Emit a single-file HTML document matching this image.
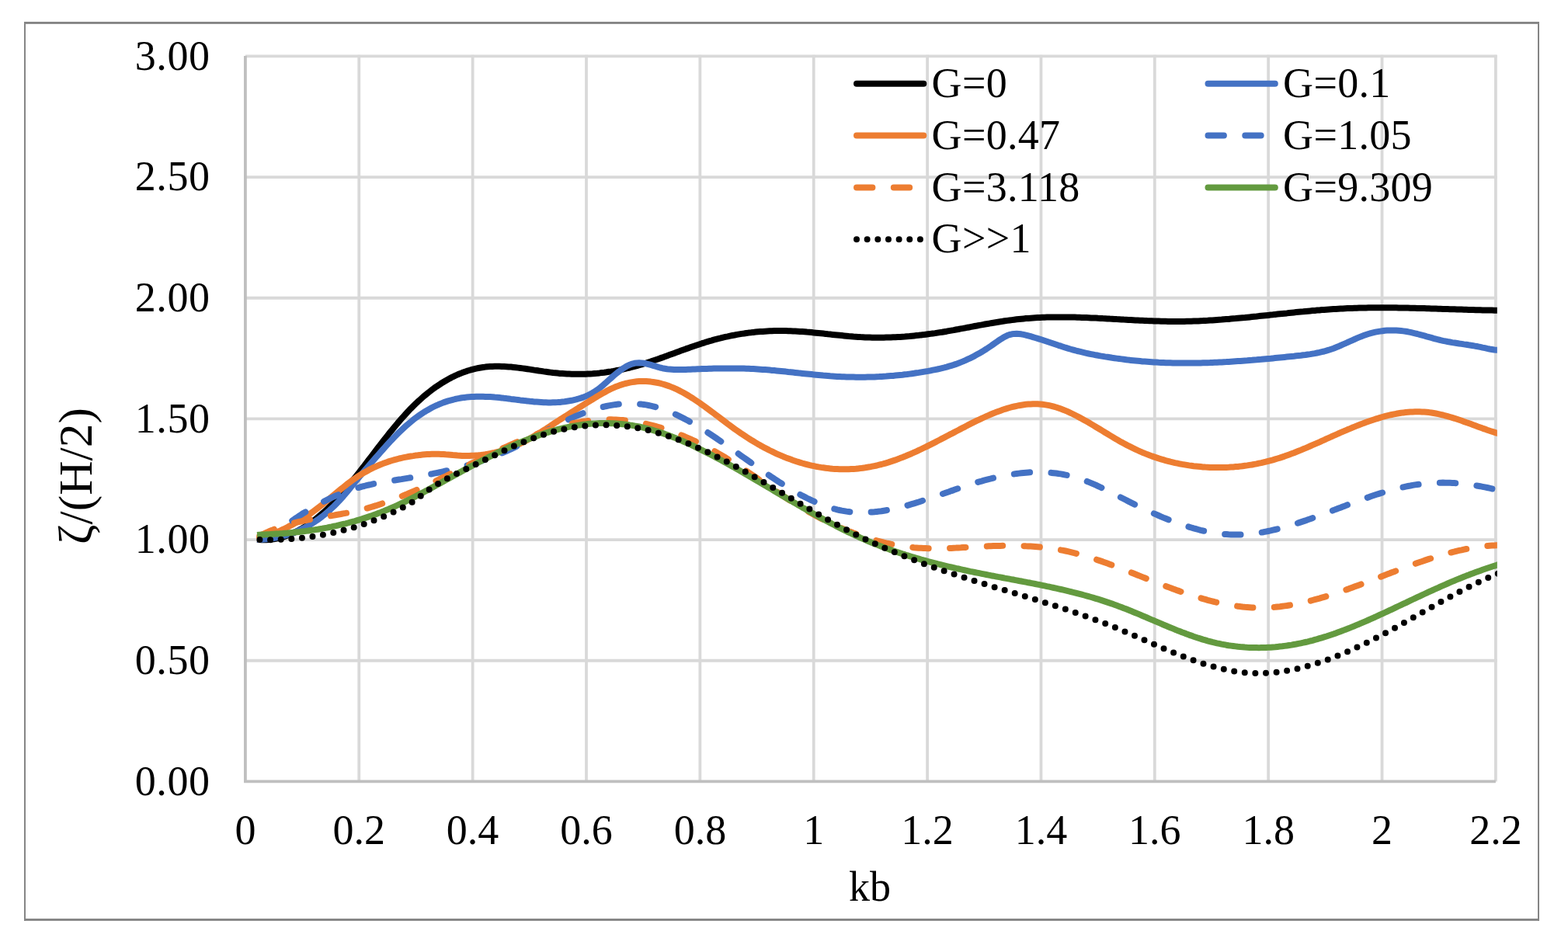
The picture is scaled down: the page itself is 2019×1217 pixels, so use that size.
<!DOCTYPE html>
<html lang="en"><head><meta charset="utf-8"><title>Chart</title>
<style>html,body{margin:0;padding:0;background:#fff}svg{display:block}text{font-family:"Liberation Serif","Times New Roman",serif;fill:#000}</style></head><body>
<svg width="2019" height="1217" viewBox="0 0 2019 1217">
<rect x="0" y="0" width="2019" height="1217" fill="#fff"/>
<g fill="#858585"><rect x="31" y="28" width="1951" height="2.9"/><rect x="31" y="1183" width="1951" height="2.9"/><rect x="31" y="28" width="2" height="1157.9"/><rect x="1980" y="28" width="2" height="1157.9"/></g>
<g stroke="#D9D9D9" stroke-width="3.8" fill="none"><line x1="315.9" y1="72.40" x2="1927.6000000000001" y2="72.40"/><line x1="315.9" y1="228.07" x2="1927.6000000000001" y2="228.07"/><line x1="315.9" y1="383.73" x2="1927.6000000000001" y2="383.73"/><line x1="315.9" y1="539.40" x2="1927.6000000000001" y2="539.40"/><line x1="315.9" y1="695.07" x2="1927.6000000000001" y2="695.07"/><line x1="315.9" y1="850.73" x2="1927.6000000000001" y2="850.73"/><line x1="462.26" y1="70.7" x2="462.26" y2="1006.4"/><line x1="608.63" y1="70.7" x2="608.63" y2="1006.4"/><line x1="754.99" y1="70.7" x2="754.99" y2="1006.4"/><line x1="901.35" y1="70.7" x2="901.35" y2="1006.4"/><line x1="1047.72" y1="70.7" x2="1047.72" y2="1006.4"/><line x1="1194.08" y1="70.7" x2="1194.08" y2="1006.4"/><line x1="1340.45" y1="70.7" x2="1340.45" y2="1006.4"/><line x1="1486.81" y1="70.7" x2="1486.81" y2="1006.4"/><line x1="1633.17" y1="70.7" x2="1633.17" y2="1006.4"/><line x1="1779.54" y1="70.7" x2="1779.54" y2="1006.4"/><line x1="1925.90" y1="70.7" x2="1925.90" y2="1006.4"/></g>
<g stroke="#BFBFBF" stroke-width="3.8" fill="none"><line x1="315.9" y1="71.9" x2="315.9" y2="1008.1"/><line x1="314.2" y1="1006.4" x2="1925.9" y2="1006.4"/></g>
<g font-size="54" text-anchor="end" letter-spacing="0.6"><text x="270.6" y="89.6">3.00</text><text x="270.6" y="245.3">2.50</text><text x="270.6" y="400.9">2.00</text><text x="270.6" y="556.6">1.50</text><text x="270.6" y="712.3">1.00</text><text x="270.6" y="867.9">0.50</text><text x="270.6" y="1023.6">0.00</text></g>
<g font-size="54" text-anchor="middle"><text x="315.9" y="1086.5">0</text><text x="462.3" y="1086.5">0.2</text><text x="608.6" y="1086.5">0.4</text><text x="755.0" y="1086.5">0.6</text><text x="901.4" y="1086.5">0.8</text><text x="1047.7" y="1086.5">1</text><text x="1194.1" y="1086.5">1.2</text><text x="1340.4" y="1086.5">1.4</text><text x="1486.8" y="1086.5">1.6</text><text x="1633.2" y="1086.5">1.8</text><text x="1779.5" y="1086.5">2</text><text x="1925.9" y="1086.5">2.2</text></g>
<text x="1120" y="1160" font-size="54" text-anchor="middle">kb</text>
<text transform="translate(118,613) rotate(-90)" font-size="61.5" text-anchor="middle">ζ/(H/2)</text>
<defs><clipPath id="plotclip"><rect x="315.9" y="72.4" width="1611.9" height="934.0"/></clipPath></defs>
<g clip-path="url(#plotclip)" fill="none" stroke-width="8" stroke-linejoin="round"><path d="M331.0,694.9 334.0,695.1 337.0,695.3 340.0,695.3 343.0,695.3 346.0,695.1 349.0,694.8 352.0,694.4 355.0,693.9 358.0,693.2 361.0,692.5 364.0,691.7 367.0,690.7 370.0,689.6 373.0,688.5 376.0,687.2 379.0,685.8 382.0,684.4 385.0,682.8 388.0,681.1 391.0,679.3 394.0,677.4 397.0,675.4 400.0,673.3 403.0,671.1 406.0,668.8 409.0,666.4 412.0,663.9 415.0,661.3 418.0,658.6 421.0,655.8 424.0,652.9 427.0,649.9 430.0,646.8 433.0,643.6 436.0,640.3 439.0,636.9 442.0,633.5 445.0,630.0 448.0,626.4 451.0,622.7 454.0,619.0 457.0,615.3 460.0,611.5 463.0,607.6 466.0,603.8 469.0,599.9 472.0,596.0 475.0,592.0 478.0,588.1 481.0,584.2 484.0,580.2 487.0,576.3 490.0,572.4 493.0,568.6 496.0,564.7 499.0,560.9 502.0,557.1 505.0,553.4 508.0,549.8 511.0,546.2 514.0,542.6 517.0,539.2 520.0,535.8 523.0,532.5 526.0,529.3 529.0,526.1 532.0,523.1 535.0,520.2 538.0,517.3 541.0,514.6 544.0,511.9 547.0,509.3 550.0,506.9 553.0,504.5 556.0,502.2 559.0,499.9 562.0,497.8 565.0,495.8 568.0,493.8 571.0,492.0 574.0,490.2 577.0,488.5 580.0,486.9 583.0,485.3 586.0,483.9 589.0,482.5 592.0,481.3 595.0,480.1 598.0,479.0 601.0,477.9 604.0,477.0 607.0,476.1 610.0,475.3 613.0,474.6 616.0,474.0 619.0,473.5 622.0,473.0 625.0,472.6 628.0,472.3 631.0,472.1 634.0,471.9 637.0,471.8 640.0,471.8 643.0,471.8 646.0,471.9 649.0,472.0 652.0,472.2 655.0,472.4 658.0,472.6 661.0,472.9 664.0,473.2 667.0,473.6 670.0,474.0 673.0,474.4 676.0,474.8 679.0,475.2 682.0,475.6 685.0,476.1 688.0,476.6 691.0,477.0 694.0,477.5 697.0,477.9 700.0,478.4 703.0,478.8 706.0,479.2 709.0,479.6 712.0,480.0 715.0,480.3 718.0,480.6 721.0,480.9 724.0,481.1 727.0,481.3 730.0,481.5 733.0,481.6 736.0,481.7 739.0,481.8 742.0,481.8 745.0,481.8 748.0,481.8 751.0,481.8 754.0,481.7 757.0,481.5 760.0,481.4 763.0,481.2 766.0,480.9 769.0,480.7 772.0,480.4 775.0,480.0 778.0,479.7 781.0,479.3 784.0,478.8 787.0,478.4 790.0,477.9 793.0,477.3 796.0,476.8 799.0,476.2 802.0,475.5 805.0,474.9 808.0,474.2 811.0,473.5 814.0,472.7 817.0,471.9 820.0,471.1 823.0,470.2 826.0,469.4 829.0,468.4 832.0,467.5 835.0,466.5 838.0,465.6 841.0,464.5 844.0,463.5 847.0,462.5 850.0,461.4 853.0,460.4 856.0,459.3 859.0,458.2 862.0,457.1 865.0,456.0 868.0,454.9 871.0,453.8 874.0,452.7 877.0,451.6 880.0,450.5 883.0,449.4 886.0,448.4 889.0,447.3 892.0,446.2 895.0,445.2 898.0,444.2 901.0,443.2 904.0,442.2 907.0,441.3 910.0,440.3 913.0,439.4 916.0,438.6 919.0,437.7 922.0,436.9 925.0,436.1 928.0,435.4 931.0,434.6 934.0,433.9 937.0,433.3 940.0,432.6 943.0,432.0 946.0,431.5 949.0,430.9 952.0,430.4 955.0,429.9 958.0,429.5 961.0,429.0 964.0,428.6 967.0,428.3 970.0,427.9 973.0,427.6 976.0,427.3 979.0,427.1 982.0,426.9 985.0,426.7 988.0,426.5 991.0,426.3 994.0,426.2 997.0,426.1 1000.0,426.1 1003.0,426.0 1006.0,426.0 1009.0,426.1 1012.0,426.1 1015.0,426.2 1018.0,426.3 1021.0,426.4 1024.0,426.5 1027.0,426.7 1030.0,426.9 1033.0,427.1 1036.0,427.3 1039.0,427.6 1042.0,427.8 1045.0,428.1 1048.0,428.4 1051.0,428.7 1054.0,429.0 1057.0,429.3 1060.0,429.6 1063.0,429.9 1066.0,430.3 1069.0,430.6 1072.0,430.9 1075.0,431.2 1078.0,431.5 1081.0,431.8 1084.0,432.1 1087.0,432.4 1090.0,432.7 1093.0,433.0 1096.0,433.2 1099.0,433.5 1102.0,433.7 1105.0,433.9 1108.0,434.1 1111.0,434.2 1114.0,434.4 1117.0,434.5 1120.0,434.6 1123.0,434.7 1126.0,434.7 1129.0,434.7 1132.0,434.8 1135.0,434.7 1138.0,434.7 1141.0,434.6 1144.0,434.6 1147.0,434.5 1150.0,434.3 1153.0,434.2 1156.0,434.0 1159.0,433.9 1162.0,433.7 1165.0,433.5 1168.0,433.2 1171.0,433.0 1174.0,432.7 1177.0,432.4 1180.0,432.1 1183.0,431.8 1186.0,431.4 1189.0,431.1 1192.0,430.7 1195.0,430.3 1198.0,429.9 1201.0,429.5 1204.0,429.1 1207.0,428.6 1210.0,428.1 1213.0,427.7 1216.0,427.2 1219.0,426.7 1222.0,426.1 1225.0,425.6 1228.0,425.1 1231.0,424.5 1234.0,424.0 1237.0,423.4 1240.0,422.9 1243.0,422.3 1246.0,421.7 1249.0,421.2 1252.0,420.6 1255.0,420.0 1258.0,419.5 1261.0,418.9 1264.0,418.4 1267.0,417.8 1270.0,417.3 1273.0,416.8 1276.0,416.2 1279.0,415.7 1282.0,415.2 1285.0,414.7 1288.0,414.2 1291.0,413.8 1294.0,413.3 1297.0,412.9 1300.0,412.5 1303.0,412.1 1306.0,411.7 1309.0,411.3 1312.0,411.0 1315.0,410.7 1318.0,410.4 1321.0,410.1 1324.0,409.9 1327.0,409.7 1330.0,409.5 1333.0,409.3 1336.0,409.1 1339.0,409.0 1342.0,408.8 1345.0,408.7 1348.0,408.6 1351.0,408.6 1354.0,408.5 1357.0,408.4 1360.0,408.4 1363.0,408.4 1366.0,408.4 1369.0,408.4 1372.0,408.4 1375.0,408.5 1378.0,408.5 1381.0,408.6 1384.0,408.6 1387.0,408.7 1390.0,408.8 1393.0,408.9 1396.0,409.0 1399.0,409.1 1402.0,409.2 1405.0,409.4 1408.0,409.5 1411.0,409.6 1414.0,409.8 1417.0,409.9 1420.0,410.1 1423.0,410.2 1426.0,410.4 1429.0,410.6 1432.0,410.7 1435.0,410.9 1438.0,411.1 1441.0,411.2 1444.0,411.4 1447.0,411.6 1450.0,411.7 1453.0,411.9 1456.0,412.0 1459.0,412.2 1462.0,412.4 1465.0,412.5 1468.0,412.7 1471.0,412.8 1474.0,412.9 1477.0,413.1 1480.0,413.2 1483.0,413.3 1486.0,413.4 1489.0,413.5 1492.0,413.6 1495.0,413.7 1498.0,413.8 1501.0,413.8 1504.0,413.9 1507.0,413.9 1510.0,413.9 1513.0,414.0 1516.0,414.0 1519.0,414.0 1522.0,413.9 1525.0,413.9 1528.0,413.8 1531.0,413.8 1534.0,413.7 1537.0,413.6 1540.0,413.5 1543.0,413.4 1546.0,413.2 1549.0,413.1 1552.0,412.9 1555.0,412.8 1558.0,412.6 1561.0,412.4 1564.0,412.2 1567.0,412.0 1570.0,411.8 1573.0,411.6 1576.0,411.3 1579.0,411.1 1582.0,410.9 1585.0,410.6 1588.0,410.3 1591.0,410.1 1594.0,409.8 1597.0,409.5 1600.0,409.2 1603.0,409.0 1606.0,408.7 1609.0,408.4 1612.0,408.1 1615.0,407.8 1618.0,407.5 1621.0,407.1 1624.0,406.8 1627.0,406.5 1630.0,406.2 1633.0,405.9 1636.0,405.6 1639.0,405.3 1642.0,404.9 1645.0,404.6 1648.0,404.3 1651.0,404.0 1654.0,403.7 1657.0,403.4 1660.0,403.0 1663.0,402.7 1666.0,402.4 1669.0,402.1 1672.0,401.8 1675.0,401.5 1678.0,401.3 1681.0,401.0 1684.0,400.7 1687.0,400.4 1690.0,400.1 1693.0,399.9 1696.0,399.6 1699.0,399.4 1702.0,399.1 1705.0,398.9 1708.0,398.7 1711.0,398.5 1714.0,398.3 1717.0,398.1 1720.0,397.9 1723.0,397.7 1726.0,397.5 1729.0,397.4 1732.0,397.2 1735.0,397.1 1738.0,397.0 1741.0,396.9 1744.0,396.8 1747.0,396.7 1750.0,396.6 1753.0,396.5 1756.0,396.4 1759.0,396.4 1762.0,396.3 1765.0,396.3 1768.0,396.3 1771.0,396.2 1774.0,396.2 1777.0,396.2 1780.0,396.2 1783.0,396.2 1786.0,396.2 1789.0,396.3 1792.0,396.3 1795.0,396.3 1798.0,396.3 1801.0,396.4 1804.0,396.4 1807.0,396.5 1810.0,396.5 1813.0,396.6 1816.0,396.7 1819.0,396.7 1822.0,396.8 1825.0,396.9 1828.0,397.0 1831.0,397.0 1834.0,397.1 1837.0,397.2 1840.0,397.3 1843.0,397.4 1846.0,397.5 1849.0,397.6 1852.0,397.7 1855.0,397.8 1858.0,397.9 1861.0,398.0 1864.0,398.1 1867.0,398.2 1870.0,398.2 1873.0,398.3 1876.0,398.4 1879.0,398.5 1882.0,398.6 1885.0,398.7 1888.0,398.8 1891.0,398.9 1894.0,399.0 1897.0,399.1 1900.0,399.2 1903.0,399.2 1906.0,399.3 1909.0,399.4 1912.0,399.5 1915.0,399.5 1918.0,399.6 1921.0,399.6 1924.0,399.7 1927.0,399.7 1930.0,399.8" stroke="#000000" />
<path d="M331.0,695.1 334.0,695.0 337.0,694.8 340.0,694.6 343.0,694.3 346.0,693.9 349.0,693.5 352.0,693.0 355.0,692.5 358.0,691.9 361.0,691.2 364.0,690.4 367.0,689.6 370.0,688.7 373.0,687.7 376.0,686.7 379.0,685.5 382.0,684.3 385.0,683.0 388.0,681.6 391.0,680.2 394.0,678.6 397.0,677.0 400.0,675.2 403.0,673.4 406.0,671.4 409.0,669.4 412.0,667.2 415.0,665.0 418.0,662.6 421.0,660.1 424.0,657.5 427.0,654.7 430.0,651.9 433.0,648.9 436.0,645.8 439.0,642.5 442.0,639.2 445.0,635.7 448.0,632.1 451.0,628.4 454.0,624.8 457.0,621.1 460.0,617.4 463.0,613.7 466.0,610.1 469.0,606.5 472.0,603.0 475.0,599.5 478.0,596.0 481.0,592.6 484.0,589.2 487.0,585.8 490.0,582.4 493.0,579.0 496.0,575.6 499.0,572.3 502.0,569.0 505.0,565.9 508.0,562.7 511.0,559.7 514.0,556.7 517.0,553.8 520.0,551.0 523.0,548.3 526.0,545.7 529.0,543.2 532.0,540.7 535.0,538.4 538.0,536.2 541.0,534.1 544.0,532.1 547.0,530.2 550.0,528.4 553.0,526.7 556.0,525.0 559.0,523.5 562.0,522.1 565.0,520.8 568.0,519.6 571.0,518.4 574.0,517.4 577.0,516.4 580.0,515.6 583.0,514.8 586.0,514.0 589.0,513.4 592.0,512.8 595.0,512.3 598.0,511.9 601.0,511.6 604.0,511.3 607.0,511.1 610.0,510.9 613.0,510.8 616.0,510.7 619.0,510.7 622.0,510.8 625.0,510.9 628.0,511.0 631.0,511.1 634.0,511.3 637.0,511.6 640.0,511.8 643.0,512.1 646.0,512.4 649.0,512.8 652.0,513.1 655.0,513.5 658.0,513.9 661.0,514.2 664.0,514.6 667.0,515.0 670.0,515.4 673.0,515.7 676.0,516.1 679.0,516.4 682.0,516.8 685.0,517.1 688.0,517.4 691.0,517.6 694.0,517.8 697.0,518.0 700.0,518.2 703.0,518.3 706.0,518.4 709.0,518.4 712.0,518.3 715.0,518.2 718.0,518.1 721.0,517.9 724.0,517.6 727.0,517.3 730.0,516.8 733.0,516.3 736.0,515.8 739.0,515.1 742.0,514.4 745.0,513.5 748.0,512.6 751.0,511.6 754.0,510.4 757.0,509.1 760.0,507.6 763.0,506.0 766.0,504.1 769.0,502.1 772.0,499.8 775.0,497.4 778.0,494.8 781.0,492.1 784.0,489.4 787.0,486.7 790.0,484.0 793.0,481.5 796.0,479.1 799.0,476.8 802.0,474.7 805.0,472.8 808.0,471.1 811.0,469.7 814.0,468.6 817.0,467.8 820.0,467.4 823.0,467.2 826.0,467.4 829.0,467.8 832.0,468.3 835.0,469.1 838.0,469.9 841.0,470.8 844.0,471.7 847.0,472.6 850.0,473.5 853.0,474.2 856.0,474.7 859.0,475.2 862.0,475.6 865.0,475.8 868.0,476.0 871.0,476.1 874.0,476.1 877.0,476.1 880.0,476.0 883.0,475.9 886.0,475.8 889.0,475.7 892.0,475.5 895.0,475.4 898.0,475.3 901.0,475.2 904.0,475.1 907.0,475.0 910.0,474.9 913.0,474.8 916.0,474.7 919.0,474.6 922.0,474.5 925.0,474.5 928.0,474.4 931.0,474.4 934.0,474.4 937.0,474.4 940.0,474.4 943.0,474.4 946.0,474.4 949.0,474.4 952.0,474.5 955.0,474.6 958.0,474.6 961.0,474.7 964.0,474.8 967.0,475.0 970.0,475.1 973.0,475.3 976.0,475.5 979.0,475.7 982.0,475.9 985.0,476.1 988.0,476.3 991.0,476.6 994.0,476.9 997.0,477.1 1000.0,477.4 1003.0,477.7 1006.0,478.0 1009.0,478.3 1012.0,478.6 1015.0,479.0 1018.0,479.3 1021.0,479.6 1024.0,479.9 1027.0,480.2 1030.0,480.6 1033.0,480.9 1036.0,481.2 1039.0,481.5 1042.0,481.8 1045.0,482.1 1048.0,482.4 1051.0,482.7 1054.0,483.0 1057.0,483.3 1060.0,483.6 1063.0,483.8 1066.0,484.0 1069.0,484.3 1072.0,484.5 1075.0,484.7 1078.0,484.9 1081.0,485.0 1084.0,485.2 1087.0,485.3 1090.0,485.4 1093.0,485.5 1096.0,485.6 1099.0,485.6 1102.0,485.7 1105.0,485.7 1108.0,485.7 1111.0,485.7 1114.0,485.7 1117.0,485.6 1120.0,485.5 1123.0,485.5 1126.0,485.4 1129.0,485.2 1132.0,485.1 1135.0,484.9 1138.0,484.7 1141.0,484.6 1144.0,484.3 1147.0,484.1 1150.0,483.9 1153.0,483.6 1156.0,483.3 1159.0,483.0 1162.0,482.7 1165.0,482.3 1168.0,482.0 1171.0,481.6 1174.0,481.2 1177.0,480.8 1180.0,480.3 1183.0,479.9 1186.0,479.4 1189.0,478.9 1192.0,478.4 1195.0,477.9 1198.0,477.3 1201.0,476.7 1204.0,476.1 1207.0,475.5 1210.0,474.8 1213.0,474.1 1216.0,473.4 1219.0,472.6 1222.0,471.7 1225.0,470.8 1228.0,469.9 1231.0,468.9 1234.0,467.8 1237.0,466.6 1240.0,465.4 1243.0,464.1 1246.0,462.7 1249.0,461.3 1252.0,459.8 1255.0,458.3 1258.0,456.6 1261.0,454.9 1264.0,453.2 1267.0,451.4 1270.0,449.5 1273.0,447.5 1276.0,445.5 1279.0,443.4 1282.0,441.3 1285.0,439.2 1288.0,437.2 1291.0,435.3 1294.0,433.6 1297.0,432.1 1300.0,431.0 1303.0,430.3 1306.0,429.9 1309.0,429.8 1312.0,430.0 1315.0,430.3 1318.0,430.9 1321.0,431.6 1324.0,432.4 1327.0,433.2 1330.0,434.1 1333.0,435.0 1336.0,435.9 1339.0,436.8 1342.0,437.8 1345.0,438.8 1348.0,439.8 1351.0,440.8 1354.0,441.8 1357.0,442.8 1360.0,443.8 1363.0,444.8 1366.0,445.7 1369.0,446.7 1372.0,447.7 1375.0,448.6 1378.0,449.5 1381.0,450.3 1384.0,451.2 1387.0,452.0 1390.0,452.7 1393.0,453.4 1396.0,454.1 1399.0,454.8 1402.0,455.5 1405.0,456.1 1408.0,456.7 1411.0,457.3 1414.0,457.8 1417.0,458.4 1420.0,458.9 1423.0,459.4 1426.0,459.8 1429.0,460.3 1432.0,460.8 1435.0,461.2 1438.0,461.6 1441.0,462.0 1444.0,462.4 1447.0,462.8 1450.0,463.2 1453.0,463.6 1456.0,463.9 1459.0,464.2 1462.0,464.5 1465.0,464.8 1468.0,465.1 1471.0,465.4 1474.0,465.6 1477.0,465.8 1480.0,466.0 1483.0,466.2 1486.0,466.4 1489.0,466.6 1492.0,466.8 1495.0,466.9 1498.0,467.0 1501.0,467.2 1504.0,467.3 1507.0,467.3 1510.0,467.4 1513.0,467.5 1516.0,467.5 1519.0,467.6 1522.0,467.6 1525.0,467.6 1528.0,467.6 1531.0,467.6 1534.0,467.6 1537.0,467.6 1540.0,467.5 1543.0,467.5 1546.0,467.4 1549.0,467.3 1552.0,467.3 1555.0,467.2 1558.0,467.1 1561.0,466.9 1564.0,466.8 1567.0,466.7 1570.0,466.5 1573.0,466.4 1576.0,466.2 1579.0,466.1 1582.0,465.9 1585.0,465.7 1588.0,465.5 1591.0,465.3 1594.0,465.1 1597.0,464.9 1600.0,464.7 1603.0,464.5 1606.0,464.3 1609.0,464.0 1612.0,463.8 1615.0,463.5 1618.0,463.3 1621.0,463.0 1624.0,462.8 1627.0,462.5 1630.0,462.2 1633.0,461.9 1636.0,461.7 1639.0,461.4 1642.0,461.1 1645.0,460.8 1648.0,460.5 1651.0,460.2 1654.0,459.9 1657.0,459.6 1660.0,459.3 1663.0,459.0 1666.0,458.7 1669.0,458.3 1672.0,458.0 1675.0,457.7 1678.0,457.3 1681.0,457.0 1684.0,456.5 1687.0,456.1 1690.0,455.6 1693.0,455.1 1696.0,454.5 1699.0,453.9 1702.0,453.2 1705.0,452.5 1708.0,451.6 1711.0,450.7 1714.0,449.7 1717.0,448.7 1720.0,447.5 1723.0,446.3 1726.0,445.0 1729.0,443.7 1732.0,442.4 1735.0,441.0 1738.0,439.7 1741.0,438.3 1744.0,437.0 1747.0,435.7 1750.0,434.4 1753.0,433.2 1756.0,432.1 1759.0,431.0 1762.0,430.0 1765.0,429.1 1768.0,428.4 1771.0,427.7 1774.0,427.1 1777.0,426.6 1780.0,426.2 1783.0,425.8 1786.0,425.6 1789.0,425.5 1792.0,425.4 1795.0,425.4 1798.0,425.6 1801.0,425.8 1804.0,426.0 1807.0,426.4 1810.0,426.8 1813.0,427.3 1816.0,427.9 1819.0,428.6 1822.0,429.3 1825.0,430.0 1828.0,430.8 1831.0,431.6 1834.0,432.4 1837.0,433.3 1840.0,434.1 1843.0,434.9 1846.0,435.8 1849.0,436.6 1852.0,437.3 1855.0,438.1 1858.0,438.8 1861.0,439.4 1864.0,440.0 1867.0,440.5 1870.0,441.1 1873.0,441.5 1876.0,442.0 1879.0,442.5 1882.0,442.9 1885.0,443.4 1888.0,443.8 1891.0,444.3 1894.0,444.7 1897.0,445.2 1900.0,445.8 1903.0,446.3 1906.0,446.9 1909.0,447.6 1912.0,448.2 1915.0,448.9 1918.0,449.5 1921.0,450.0 1924.0,450.5 1927.0,450.8 1930.0,450.9" stroke="#4472C4" />
<path d="M331.0,695.0 334.0,694.0 337.0,693.0 340.0,691.9 343.0,690.8 346.0,689.6 349.0,688.4 352.0,687.2 355.0,685.9 358.0,684.6 361.0,683.3 364.0,681.9 367.0,680.5 370.0,679.0 373.0,677.4 376.0,675.9 379.0,674.2 382.0,672.5 385.0,670.8 388.0,669.0 391.0,667.1 394.0,665.2 397.0,663.2 400.0,661.1 403.0,659.0 406.0,656.8 409.0,654.5 412.0,652.2 415.0,649.8 418.0,647.4 421.0,644.9 424.0,642.4 427.0,639.9 430.0,637.4 433.0,634.9 436.0,632.4 439.0,629.9 442.0,627.5 445.0,625.1 448.0,622.7 451.0,620.5 454.0,618.3 457.0,616.2 460.0,614.1 463.0,612.2 466.0,610.3 469.0,608.6 472.0,606.9 475.0,605.2 478.0,603.7 481.0,602.2 484.0,600.8 487.0,599.5 490.0,598.3 493.0,597.1 496.0,596.0 499.0,594.9 502.0,593.9 505.0,593.0 508.0,592.1 511.0,591.3 514.0,590.5 517.0,589.8 520.0,589.2 523.0,588.6 526.0,588.0 529.0,587.5 532.0,587.1 535.0,586.6 538.0,586.3 541.0,585.9 544.0,585.6 547.0,585.3 550.0,585.1 553.0,584.9 556.0,584.8 559.0,584.7 562.0,584.7 565.0,584.8 568.0,584.9 571.0,585.0 574.0,585.3 577.0,585.5 580.0,585.8 583.0,586.1 586.0,586.3 589.0,586.6 592.0,586.7 595.0,586.9 598.0,586.9 601.0,586.9 604.0,586.9 607.0,586.8 610.0,586.7 613.0,586.5 616.0,586.3 619.0,586.0 622.0,585.6 625.0,585.2 628.0,584.7 631.0,584.1 634.0,583.5 637.0,582.9 640.0,582.1 643.0,581.4 646.0,580.5 649.0,579.6 652.0,578.6 655.0,577.5 658.0,576.4 661.0,575.2 664.0,573.9 667.0,572.6 670.0,571.2 673.0,569.7 676.0,568.2 679.0,566.6 682.0,564.9 685.0,563.3 688.0,561.5 691.0,559.7 694.0,557.9 697.0,556.1 700.0,554.2 703.0,552.3 706.0,550.3 709.0,548.4 712.0,546.4 715.0,544.4 718.0,542.5 721.0,540.5 724.0,538.6 727.0,536.7 730.0,534.8 733.0,532.9 736.0,531.0 739.0,529.1 742.0,527.2 745.0,525.3 748.0,523.5 751.0,521.6 754.0,519.7 757.0,517.9 760.0,516.0 763.0,514.2 766.0,512.4 769.0,510.5 772.0,508.8 775.0,507.0 778.0,505.4 781.0,503.7 784.0,502.2 787.0,500.7 790.0,499.3 793.0,498.0 796.0,496.9 799.0,495.8 802.0,494.9 805.0,494.0 808.0,493.3 811.0,492.6 814.0,492.1 817.0,491.7 820.0,491.3 823.0,491.1 826.0,491.0 829.0,491.0 832.0,491.1 835.0,491.3 838.0,491.6 841.0,492.0 844.0,492.5 847.0,493.0 850.0,493.7 853.0,494.5 856.0,495.4 859.0,496.4 862.0,497.4 865.0,498.6 868.0,499.8 871.0,501.2 874.0,502.6 877.0,504.2 880.0,505.8 883.0,507.5 886.0,509.3 889.0,511.1 892.0,513.0 895.0,515.0 898.0,517.0 901.0,519.0 904.0,521.2 907.0,523.3 910.0,525.5 913.0,527.7 916.0,529.9 919.0,532.2 922.0,534.4 925.0,536.7 928.0,539.0 931.0,541.2 934.0,543.5 937.0,545.8 940.0,548.0 943.0,550.2 946.0,552.4 949.0,554.5 952.0,556.6 955.0,558.7 958.0,560.7 961.0,562.7 964.0,564.6 967.0,566.5 970.0,568.3 973.0,570.1 976.0,571.9 979.0,573.6 982.0,575.2 985.0,576.9 988.0,578.4 991.0,580.0 994.0,581.4 997.0,582.9 1000.0,584.3 1003.0,585.6 1006.0,586.9 1009.0,588.2 1012.0,589.4 1015.0,590.5 1018.0,591.6 1021.0,592.7 1024.0,593.7 1027.0,594.7 1030.0,595.6 1033.0,596.5 1036.0,597.3 1039.0,598.1 1042.0,598.9 1045.0,599.6 1048.0,600.2 1051.0,600.8 1054.0,601.4 1057.0,601.9 1060.0,602.3 1063.0,602.7 1066.0,603.1 1069.0,603.4 1072.0,603.7 1075.0,603.9 1078.0,604.0 1081.0,604.2 1084.0,604.2 1087.0,604.3 1090.0,604.2 1093.0,604.2 1096.0,604.0 1099.0,603.9 1102.0,603.7 1105.0,603.4 1108.0,603.1 1111.0,602.7 1114.0,602.3 1117.0,601.8 1120.0,601.3 1123.0,600.7 1126.0,600.1 1129.0,599.5 1132.0,598.7 1135.0,598.0 1138.0,597.2 1141.0,596.3 1144.0,595.4 1147.0,594.4 1150.0,593.4 1153.0,592.4 1156.0,591.3 1159.0,590.1 1162.0,589.0 1165.0,587.8 1168.0,586.5 1171.0,585.3 1174.0,584.0 1177.0,582.6 1180.0,581.3 1183.0,579.9 1186.0,578.5 1189.0,577.0 1192.0,575.6 1195.0,574.1 1198.0,572.6 1201.0,571.1 1204.0,569.6 1207.0,568.0 1210.0,566.5 1213.0,564.9 1216.0,563.4 1219.0,561.8 1222.0,560.2 1225.0,558.7 1228.0,557.1 1231.0,555.5 1234.0,554.0 1237.0,552.4 1240.0,550.8 1243.0,549.3 1246.0,547.7 1249.0,546.2 1252.0,544.7 1255.0,543.2 1258.0,541.7 1261.0,540.3 1264.0,538.9 1267.0,537.5 1270.0,536.1 1273.0,534.8 1276.0,533.5 1279.0,532.3 1282.0,531.1 1285.0,530.0 1288.0,528.9 1291.0,527.8 1294.0,526.8 1297.0,525.9 1300.0,525.0 1303.0,524.2 1306.0,523.5 1309.0,522.8 1312.0,522.2 1315.0,521.7 1318.0,521.2 1321.0,520.8 1324.0,520.6 1327.0,520.4 1330.0,520.2 1333.0,520.2 1336.0,520.3 1339.0,520.5 1342.0,520.7 1345.0,521.1 1348.0,521.6 1351.0,522.2 1354.0,522.9 1357.0,523.7 1360.0,524.5 1363.0,525.5 1366.0,526.6 1369.0,527.7 1372.0,528.9 1375.0,530.2 1378.0,531.6 1381.0,533.0 1384.0,534.5 1387.0,536.0 1390.0,537.6 1393.0,539.2 1396.0,540.9 1399.0,542.6 1402.0,544.3 1405.0,546.1 1408.0,547.9 1411.0,549.7 1414.0,551.5 1417.0,553.3 1420.0,555.1 1423.0,557.0 1426.0,558.8 1429.0,560.6 1432.0,562.4 1435.0,564.2 1438.0,565.9 1441.0,567.7 1444.0,569.4 1447.0,571.0 1450.0,572.6 1453.0,574.2 1456.0,575.7 1459.0,577.2 1462.0,578.6 1465.0,580.0 1468.0,581.4 1471.0,582.7 1474.0,583.9 1477.0,585.1 1480.0,586.2 1483.0,587.4 1486.0,588.4 1489.0,589.4 1492.0,590.4 1495.0,591.3 1498.0,592.2 1501.0,593.1 1504.0,593.9 1507.0,594.7 1510.0,595.4 1513.0,596.1 1516.0,596.7 1519.0,597.3 1522.0,597.9 1525.0,598.4 1528.0,598.9 1531.0,599.4 1534.0,599.8 1537.0,600.2 1540.0,600.5 1543.0,600.8 1546.0,601.1 1549.0,601.4 1552.0,601.6 1555.0,601.7 1558.0,601.9 1561.0,602.0 1564.0,602.0 1567.0,602.1 1570.0,602.1 1573.0,602.1 1576.0,602.0 1579.0,601.9 1582.0,601.8 1585.0,601.6 1588.0,601.4 1591.0,601.1 1594.0,600.9 1597.0,600.6 1600.0,600.2 1603.0,599.8 1606.0,599.4 1609.0,598.9 1612.0,598.5 1615.0,597.9 1618.0,597.4 1621.0,596.7 1624.0,596.1 1627.0,595.4 1630.0,594.7 1633.0,593.9 1636.0,593.1 1639.0,592.3 1642.0,591.4 1645.0,590.5 1648.0,589.6 1651.0,588.6 1654.0,587.6 1657.0,586.5 1660.0,585.4 1663.0,584.3 1666.0,583.2 1669.0,582.0 1672.0,580.8 1675.0,579.6 1678.0,578.3 1681.0,577.1 1684.0,575.8 1687.0,574.5 1690.0,573.2 1693.0,571.9 1696.0,570.6 1699.0,569.3 1702.0,567.9 1705.0,566.6 1708.0,565.2 1711.0,563.9 1714.0,562.5 1717.0,561.2 1720.0,559.9 1723.0,558.5 1726.0,557.2 1729.0,555.9 1732.0,554.6 1735.0,553.3 1738.0,552.1 1741.0,550.8 1744.0,549.6 1747.0,548.4 1750.0,547.2 1753.0,546.1 1756.0,544.9 1759.0,543.8 1762.0,542.7 1765.0,541.7 1768.0,540.7 1771.0,539.7 1774.0,538.8 1777.0,537.9 1780.0,537.0 1783.0,536.2 1786.0,535.4 1789.0,534.7 1792.0,534.0 1795.0,533.4 1798.0,532.8 1801.0,532.3 1804.0,531.8 1807.0,531.4 1810.0,531.1 1813.0,530.8 1816.0,530.5 1819.0,530.4 1822.0,530.3 1825.0,530.2 1828.0,530.3 1831.0,530.4 1834.0,530.5 1837.0,530.8 1840.0,531.1 1843.0,531.5 1846.0,532.0 1849.0,532.5 1852.0,533.1 1855.0,533.8 1858.0,534.5 1861.0,535.3 1864.0,536.1 1867.0,537.0 1870.0,537.9 1873.0,538.8 1876.0,539.8 1879.0,540.8 1882.0,541.8 1885.0,542.9 1888.0,544.0 1891.0,545.0 1894.0,546.1 1897.0,547.2 1900.0,548.3 1903.0,549.4 1906.0,550.5 1909.0,551.6 1912.0,552.6 1915.0,553.7 1918.0,554.7 1921.0,555.7 1924.0,556.6 1927.0,557.6 1930.0,558.4" stroke="#ED7D31" />
<path d="M331.0,695.8 334.0,695.0 337.0,694.1 340.0,693.0 343.0,691.7 346.0,690.3 349.0,688.7 352.0,687.0 355.0,685.2 358.0,683.3 361.0,681.3 364.0,679.2 367.0,677.1 370.0,675.0 373.0,672.9 376.0,670.8 379.0,668.7 382.0,666.7 385.0,664.6 388.0,662.7 391.0,660.7 394.0,658.9 397.0,657.0 400.0,655.2 403.0,653.4 406.0,651.7 409.0,650.1 412.0,648.4 415.0,646.8 418.0,645.3 421.0,643.8 424.0,642.3 427.0,640.9 430.0,639.5 433.0,638.2 436.0,637.0 439.0,635.7 442.0,634.5 445.0,633.4 448.0,632.3 451.0,631.3 454.0,630.3 457.0,629.3 460.0,628.4 463.0,627.6 466.0,626.7 469.0,626.0 472.0,625.2 475.0,624.5 478.0,623.9 481.0,623.2 484.0,622.6 487.0,622.0 490.0,621.5 493.0,620.9 496.0,620.4 499.0,619.9 502.0,619.4 505.0,618.9 508.0,618.5 511.0,618.0 514.0,617.5 517.0,617.1 520.0,616.6 523.0,616.1 526.0,615.6 529.0,615.1 532.0,614.6 535.0,614.1 538.0,613.6 541.0,613.1 544.0,612.6 547.0,612.0 550.0,611.5 553.0,610.9 556.0,610.3 559.0,609.7 562.0,609.1 565.0,608.5 568.0,607.8 571.0,607.2 574.0,606.5 577.0,605.8 580.0,605.1 583.0,604.4 586.0,603.7 589.0,602.9 592.0,602.1 595.0,601.3 598.0,600.5 601.0,599.6 604.0,598.8 607.0,597.9 610.0,596.9 613.0,596.0 616.0,595.0 619.0,594.0 622.0,593.0 625.0,591.9 628.0,590.9 631.0,589.7 634.0,588.6 637.0,587.4 640.0,586.2 643.0,585.0 646.0,583.7 649.0,582.4 652.0,581.1 655.0,579.7 658.0,578.3 661.0,576.9 664.0,575.4 667.0,574.0 670.0,572.4 673.0,570.9 676.0,569.4 679.0,567.8 682.0,566.2 685.0,564.6 688.0,563.0 691.0,561.4 694.0,559.8 697.0,558.2 700.0,556.6 703.0,555.0 706.0,553.4 709.0,551.8 712.0,550.2 715.0,548.6 718.0,547.1 721.0,545.6 724.0,544.1 727.0,542.6 730.0,541.2 733.0,539.8 736.0,538.4 739.0,537.0 742.0,535.7 745.0,534.5 748.0,533.3 751.0,532.1 754.0,531.0 757.0,529.9 760.0,528.8 763.0,527.9 766.0,526.9 769.0,526.0 772.0,525.2 775.0,524.4 778.0,523.7 781.0,523.0 784.0,522.4 787.0,521.9 790.0,521.4 793.0,520.9 796.0,520.6 799.0,520.3 802.0,520.0 805.0,519.8 808.0,519.7 811.0,519.7 814.0,519.7 817.0,519.8 820.0,520.0 823.0,520.3 826.0,520.6 829.0,521.0 832.0,521.4 835.0,522.0 838.0,522.6 841.0,523.3 844.0,524.1 847.0,525.0 850.0,525.9 853.0,526.9 856.0,528.0 859.0,529.1 862.0,530.3 865.0,531.5 868.0,532.8 871.0,534.2 874.0,535.6 877.0,537.1 880.0,538.6 883.0,540.2 886.0,541.8 889.0,543.5 892.0,545.2 895.0,546.9 898.0,548.7 901.0,550.5 904.0,552.4 907.0,554.3 910.0,556.2 913.0,558.1 916.0,560.1 919.0,562.1 922.0,564.1 925.0,566.2 928.0,568.3 931.0,570.3 934.0,572.4 937.0,574.5 940.0,576.7 943.0,578.8 946.0,580.9 949.0,583.1 952.0,585.2 955.0,587.4 958.0,589.5 961.0,591.6 964.0,593.8 967.0,595.9 970.0,598.1 973.0,600.2 976.0,602.3 979.0,604.4 982.0,606.5 985.0,608.5 988.0,610.6 991.0,612.6 994.0,614.7 997.0,616.7 1000.0,618.6 1003.0,620.6 1006.0,622.5 1009.0,624.4 1012.0,626.3 1015.0,628.1 1018.0,629.9 1021.0,631.7 1024.0,633.4 1027.0,635.1 1030.0,636.7 1033.0,638.4 1036.0,639.9 1039.0,641.5 1042.0,642.9 1045.0,644.4 1048.0,645.7 1051.0,647.1 1054.0,648.3 1057.0,649.5 1060.0,650.7 1063.0,651.8 1066.0,652.8 1069.0,653.8 1072.0,654.7 1075.0,655.5 1078.0,656.3 1081.0,657.0 1084.0,657.6 1087.0,658.1 1090.0,658.6 1093.0,659.0 1096.0,659.4 1099.0,659.6 1102.0,659.8 1105.0,660.0 1108.0,660.0 1111.0,660.1 1114.0,660.0 1117.0,659.9 1120.0,659.7 1123.0,659.5 1126.0,659.3 1129.0,658.9 1132.0,658.6 1135.0,658.2 1138.0,657.7 1141.0,657.2 1144.0,656.7 1147.0,656.1 1150.0,655.4 1153.0,654.8 1156.0,654.1 1159.0,653.3 1162.0,652.6 1165.0,651.8 1168.0,651.0 1171.0,650.1 1174.0,649.2 1177.0,648.3 1180.0,647.4 1183.0,646.5 1186.0,645.5 1189.0,644.5 1192.0,643.5 1195.0,642.5 1198.0,641.5 1201.0,640.5 1204.0,639.5 1207.0,638.4 1210.0,637.4 1213.0,636.3 1216.0,635.3 1219.0,634.2 1222.0,633.2 1225.0,632.1 1228.0,631.1 1231.0,630.0 1234.0,629.0 1237.0,628.0 1240.0,627.0 1243.0,626.0 1246.0,625.0 1249.0,624.1 1252.0,623.1 1255.0,622.2 1258.0,621.3 1261.0,620.4 1264.0,619.6 1267.0,618.7 1270.0,617.9 1273.0,617.1 1276.0,616.4 1279.0,615.6 1282.0,614.9 1285.0,614.2 1288.0,613.6 1291.0,613.0 1294.0,612.4 1297.0,611.8 1300.0,611.3 1303.0,610.8 1306.0,610.4 1309.0,610.0 1312.0,609.6 1315.0,609.2 1318.0,608.9 1321.0,608.7 1324.0,608.5 1327.0,608.3 1330.0,608.2 1333.0,608.1 1336.0,608.1 1339.0,608.1 1342.0,608.1 1345.0,608.2 1348.0,608.4 1351.0,608.6 1354.0,608.9 1357.0,609.2 1360.0,609.5 1363.0,610.0 1366.0,610.4 1369.0,611.0 1372.0,611.6 1375.0,612.2 1378.0,612.9 1381.0,613.7 1384.0,614.6 1387.0,615.5 1390.0,616.4 1393.0,617.4 1396.0,618.5 1399.0,619.7 1402.0,620.9 1405.0,622.1 1408.0,623.4 1411.0,624.7 1414.0,626.1 1417.0,627.5 1420.0,628.9 1423.0,630.3 1426.0,631.8 1429.0,633.3 1432.0,634.8 1435.0,636.3 1438.0,637.9 1441.0,639.4 1444.0,641.0 1447.0,642.5 1450.0,644.0 1453.0,645.6 1456.0,647.1 1459.0,648.6 1462.0,650.1 1465.0,651.5 1468.0,653.0 1471.0,654.4 1474.0,655.9 1477.0,657.3 1480.0,658.7 1483.0,660.0 1486.0,661.4 1489.0,662.7 1492.0,664.0 1495.0,665.3 1498.0,666.6 1501.0,667.8 1504.0,669.0 1507.0,670.2 1510.0,671.4 1513.0,672.5 1516.0,673.6 1519.0,674.7 1522.0,675.7 1525.0,676.7 1528.0,677.7 1531.0,678.6 1534.0,679.5 1537.0,680.4 1540.0,681.2 1543.0,682.0 1546.0,682.8 1549.0,683.5 1552.0,684.1 1555.0,684.8 1558.0,685.4 1561.0,685.9 1564.0,686.4 1567.0,686.8 1570.0,687.2 1573.0,687.6 1576.0,687.9 1579.0,688.1 1582.0,688.3 1585.0,688.4 1588.0,688.5 1591.0,688.6 1594.0,688.5 1597.0,688.5 1600.0,688.3 1603.0,688.2 1606.0,687.9 1609.0,687.7 1612.0,687.4 1615.0,687.0 1618.0,686.6 1621.0,686.2 1624.0,685.7 1627.0,685.2 1630.0,684.6 1633.0,684.0 1636.0,683.4 1639.0,682.7 1642.0,682.0 1645.0,681.3 1648.0,680.5 1651.0,679.7 1654.0,678.9 1657.0,678.0 1660.0,677.1 1663.0,676.2 1666.0,675.3 1669.0,674.4 1672.0,673.4 1675.0,672.4 1678.0,671.4 1681.0,670.4 1684.0,669.3 1687.0,668.3 1690.0,667.2 1693.0,666.1 1696.0,665.0 1699.0,663.9 1702.0,662.8 1705.0,661.7 1708.0,660.5 1711.0,659.4 1714.0,658.2 1717.0,657.1 1720.0,655.9 1723.0,654.8 1726.0,653.7 1729.0,652.5 1732.0,651.4 1735.0,650.2 1738.0,649.1 1741.0,648.0 1744.0,646.8 1747.0,645.7 1750.0,644.6 1753.0,643.5 1756.0,642.5 1759.0,641.4 1762.0,640.4 1765.0,639.3 1768.0,638.3 1771.0,637.3 1774.0,636.3 1777.0,635.4 1780.0,634.5 1783.0,633.6 1786.0,632.7 1789.0,631.8 1792.0,631.0 1795.0,630.2 1798.0,629.4 1801.0,628.7 1804.0,627.9 1807.0,627.3 1810.0,626.6 1813.0,626.0 1816.0,625.5 1819.0,624.9 1822.0,624.4 1825.0,624.0 1828.0,623.6 1831.0,623.2 1834.0,622.9 1837.0,622.6 1840.0,622.3 1843.0,622.1 1846.0,621.9 1849.0,621.8 1852.0,621.7 1855.0,621.7 1858.0,621.6 1861.0,621.7 1864.0,621.7 1867.0,621.8 1870.0,621.9 1873.0,622.1 1876.0,622.3 1879.0,622.5 1882.0,622.8 1885.0,623.1 1888.0,623.5 1891.0,623.8 1894.0,624.2 1897.0,624.7 1900.0,625.2 1903.0,625.7 1906.0,626.2 1909.0,626.8 1912.0,627.4 1915.0,628.0 1918.0,628.7 1921.0,629.4 1924.0,630.1 1927.0,630.9 1930.0,631.7" stroke="#4472C4" stroke-dasharray="20.4 27.38" stroke-dashoffset="-4.4" stroke-linecap="round"/>
<path d="M331.0,691.8 334.0,690.2 337.0,688.7 340.0,687.3 343.0,685.9 346.0,684.5 349.0,683.3 352.0,682.1 355.0,680.9 358.0,679.8 361.0,678.8 364.0,677.8 367.0,676.9 370.0,676.0 373.0,675.1 376.0,674.3 379.0,673.5 382.0,672.7 385.0,672.0 388.0,671.3 391.0,670.7 394.0,670.0 397.0,669.4 400.0,668.8 403.0,668.3 406.0,667.7 409.0,667.2 412.0,666.6 415.0,666.1 418.0,665.6 421.0,665.1 424.0,664.6 427.0,664.1 430.0,663.6 433.0,663.0 436.0,662.5 439.0,662.0 442.0,661.4 445.0,660.9 448.0,660.3 451.0,659.7 454.0,659.0 457.0,658.4 460.0,657.7 463.0,657.0 466.0,656.3 469.0,655.5 472.0,654.7 475.0,653.9 478.0,653.0 481.0,652.1 484.0,651.2 487.0,650.2 490.0,649.2 493.0,648.2 496.0,647.2 499.0,646.1 502.0,645.0 505.0,643.9 508.0,642.8 511.0,641.6 514.0,640.4 517.0,639.2 520.0,638.0 523.0,636.8 526.0,635.5 529.0,634.2 532.0,632.9 535.0,631.6 538.0,630.3 541.0,628.9 544.0,627.5 547.0,626.2 550.0,624.8 553.0,623.4 556.0,622.0 559.0,620.5 562.0,619.1 565.0,617.7 568.0,616.2 571.0,614.7 574.0,613.3 577.0,611.8 580.0,610.3 583.0,608.9 586.0,607.4 589.0,605.9 592.0,604.4 595.0,602.9 598.0,601.4 601.0,599.9 604.0,598.4 607.0,596.9 610.0,595.5 613.0,594.0 616.0,592.5 619.0,591.0 622.0,589.6 625.0,588.1 628.0,586.6 631.0,585.2 634.0,583.8 637.0,582.3 640.0,580.9 643.0,579.5 646.0,578.1 649.0,576.7 652.0,575.4 655.0,574.0 658.0,572.7 661.0,571.3 664.0,570.0 667.0,568.8 670.0,567.5 673.0,566.2 676.0,565.0 679.0,563.8 682.0,562.6 685.0,561.4 688.0,560.3 691.0,559.2 694.0,558.1 697.0,557.0 700.0,555.9 703.0,554.9 706.0,553.9 709.0,553.0 712.0,552.0 715.0,551.1 718.0,550.2 721.0,549.4 724.0,548.6 727.0,547.8 730.0,547.1 733.0,546.4 736.0,545.7 739.0,545.0 742.0,544.4 745.0,543.9 748.0,543.3 751.0,542.8 754.0,542.4 757.0,542.0 760.0,541.6 763.0,541.3 766.0,541.0 769.0,540.8 772.0,540.6 775.0,540.4 778.0,540.3 781.0,540.3 784.0,540.3 787.0,540.3 790.0,540.4 793.0,540.5 796.0,540.7 799.0,540.9 802.0,541.1 805.0,541.4 808.0,541.7 811.0,542.1 814.0,542.5 817.0,543.0 820.0,543.5 823.0,544.0 826.0,544.6 829.0,545.2 832.0,545.9 835.0,546.6 838.0,547.3 841.0,548.1 844.0,548.9 847.0,549.8 850.0,550.7 853.0,551.6 856.0,552.5 859.0,553.5 862.0,554.6 865.0,555.7 868.0,556.8 871.0,557.9 874.0,559.1 877.0,560.3 880.0,561.5 883.0,562.8 886.0,564.1 889.0,565.4 892.0,566.8 895.0,568.2 898.0,569.7 901.0,571.1 904.0,572.6 907.0,574.2 910.0,575.7 913.0,577.3 916.0,578.9 919.0,580.6 922.0,582.3 925.0,584.0 928.0,585.7 931.0,587.5 934.0,589.3 937.0,591.1 940.0,592.9 943.0,594.8 946.0,596.7 949.0,598.6 952.0,600.6 955.0,602.5 958.0,604.5 961.0,606.5 964.0,608.6 967.0,610.6 970.0,612.6 973.0,614.7 976.0,616.7 979.0,618.8 982.0,620.9 985.0,622.9 988.0,625.0 991.0,627.1 994.0,629.1 997.0,631.1 1000.0,633.2 1003.0,635.2 1006.0,637.2 1009.0,639.2 1012.0,641.2 1015.0,643.1 1018.0,645.0 1021.0,646.9 1024.0,648.8 1027.0,650.6 1030.0,652.4 1033.0,654.2 1036.0,656.0 1039.0,657.7 1042.0,659.4 1045.0,661.1 1048.0,662.8 1051.0,664.4 1054.0,666.0 1057.0,667.6 1060.0,669.1 1063.0,670.6 1066.0,672.1 1069.0,673.6 1072.0,675.0 1075.0,676.4 1078.0,677.8 1081.0,679.1 1084.0,680.4 1087.0,681.7 1090.0,682.9 1093.0,684.2 1096.0,685.3 1099.0,686.5 1102.0,687.6 1105.0,688.7 1108.0,689.8 1111.0,690.8 1114.0,691.8 1117.0,692.8 1120.0,693.7 1123.0,694.6 1126.0,695.5 1129.0,696.3 1132.0,697.1 1135.0,697.9 1138.0,698.7 1141.0,699.4 1144.0,700.0 1147.0,700.7 1150.0,701.3 1153.0,701.9 1156.0,702.4 1159.0,702.9 1162.0,703.4 1165.0,703.8 1168.0,704.2 1171.0,704.6 1174.0,704.9 1177.0,705.2 1180.0,705.4 1183.0,705.7 1186.0,705.8 1189.0,706.0 1192.0,706.1 1195.0,706.2 1198.0,706.3 1201.0,706.3 1204.0,706.3 1207.0,706.3 1210.0,706.3 1213.0,706.2 1216.0,706.2 1219.0,706.1 1222.0,706.0 1225.0,705.9 1228.0,705.7 1231.0,705.6 1234.0,705.4 1237.0,705.3 1240.0,705.1 1243.0,704.9 1246.0,704.8 1249.0,704.6 1252.0,704.4 1255.0,704.3 1258.0,704.1 1261.0,703.9 1264.0,703.8 1267.0,703.6 1270.0,703.5 1273.0,703.3 1276.0,703.2 1279.0,703.1 1282.0,703.0 1285.0,702.9 1288.0,702.9 1291.0,702.8 1294.0,702.8 1297.0,702.8 1300.0,702.8 1303.0,702.8 1306.0,702.8 1309.0,702.9 1312.0,702.9 1315.0,703.0 1318.0,703.1 1321.0,703.3 1324.0,703.4 1327.0,703.6 1330.0,703.8 1333.0,704.0 1336.0,704.3 1339.0,704.6 1342.0,704.9 1345.0,705.2 1348.0,705.6 1351.0,705.9 1354.0,706.4 1357.0,706.8 1360.0,707.3 1363.0,707.8 1366.0,708.4 1369.0,708.9 1372.0,709.5 1375.0,710.2 1378.0,710.9 1381.0,711.6 1384.0,712.3 1387.0,713.1 1390.0,713.9 1393.0,714.8 1396.0,715.6 1399.0,716.5 1402.0,717.4 1405.0,718.4 1408.0,719.3 1411.0,720.3 1414.0,721.4 1417.0,722.4 1420.0,723.4 1423.0,724.5 1426.0,725.6 1429.0,726.7 1432.0,727.8 1435.0,728.9 1438.0,730.1 1441.0,731.2 1444.0,732.4 1447.0,733.6 1450.0,734.7 1453.0,735.9 1456.0,737.1 1459.0,738.3 1462.0,739.5 1465.0,740.7 1468.0,741.9 1471.0,743.1 1474.0,744.3 1477.0,745.5 1480.0,746.7 1483.0,747.8 1486.0,749.0 1489.0,750.2 1492.0,751.4 1495.0,752.5 1498.0,753.7 1501.0,754.8 1504.0,755.9 1507.0,757.1 1510.0,758.2 1513.0,759.3 1516.0,760.4 1519.0,761.4 1522.0,762.5 1525.0,763.5 1528.0,764.5 1531.0,765.5 1534.0,766.5 1537.0,767.5 1540.0,768.4 1543.0,769.3 1546.0,770.2 1549.0,771.1 1552.0,771.9 1555.0,772.8 1558.0,773.6 1561.0,774.3 1564.0,775.1 1567.0,775.8 1570.0,776.5 1573.0,777.1 1576.0,777.7 1579.0,778.3 1582.0,778.9 1585.0,779.4 1588.0,779.9 1591.0,780.3 1594.0,780.8 1597.0,781.1 1600.0,781.5 1603.0,781.8 1606.0,782.0 1609.0,782.2 1612.0,782.4 1615.0,782.6 1618.0,782.6 1621.0,782.7 1624.0,782.7 1627.0,782.6 1630.0,782.6 1633.0,782.4 1636.0,782.2 1639.0,782.0 1642.0,781.8 1645.0,781.5 1648.0,781.2 1651.0,780.8 1654.0,780.4 1657.0,780.0 1660.0,779.5 1663.0,779.0 1666.0,778.4 1669.0,777.9 1672.0,777.3 1675.0,776.6 1678.0,776.0 1681.0,775.3 1684.0,774.6 1687.0,773.8 1690.0,773.0 1693.0,772.2 1696.0,771.4 1699.0,770.6 1702.0,769.7 1705.0,768.8 1708.0,767.9 1711.0,767.0 1714.0,766.0 1717.0,765.0 1720.0,764.1 1723.0,763.1 1726.0,762.0 1729.0,761.0 1732.0,759.9 1735.0,758.9 1738.0,757.8 1741.0,756.7 1744.0,755.6 1747.0,754.5 1750.0,753.4 1753.0,752.3 1756.0,751.1 1759.0,750.0 1762.0,748.9 1765.0,747.7 1768.0,746.6 1771.0,745.4 1774.0,744.2 1777.0,743.1 1780.0,741.9 1783.0,740.8 1786.0,739.6 1789.0,738.5 1792.0,737.3 1795.0,736.2 1798.0,735.0 1801.0,733.9 1804.0,732.7 1807.0,731.6 1810.0,730.5 1813.0,729.4 1816.0,728.3 1819.0,727.2 1822.0,726.1 1825.0,725.0 1828.0,724.0 1831.0,723.0 1834.0,721.9 1837.0,720.9 1840.0,719.9 1843.0,719.0 1846.0,718.0 1849.0,717.1 1852.0,716.2 1855.0,715.3 1858.0,714.4 1861.0,713.5 1864.0,712.7 1867.0,711.9 1870.0,711.1 1873.0,710.4 1876.0,709.6 1879.0,708.9 1882.0,708.3 1885.0,707.6 1888.0,707.0 1891.0,706.4 1894.0,705.9 1897.0,705.4 1900.0,704.9 1903.0,704.5 1906.0,704.1 1909.0,703.7 1912.0,703.3 1915.0,703.0 1918.0,702.8 1921.0,702.6 1924.0,702.4 1927.0,702.2 1930.0,702.1" stroke="#ED7D31" stroke-dasharray="20.4 27.38" stroke-dashoffset="-3.8" stroke-linecap="round"/>
<path d="M331.0,688.9 334.0,688.7 337.0,688.6 340.0,688.5 343.0,688.3 346.0,688.2 349.0,688.0 352.0,687.8 355.0,687.6 358.0,687.4 361.0,687.2 364.0,687.0 367.0,686.7 370.0,686.5 373.0,686.2 376.0,685.9 379.0,685.6 382.0,685.3 385.0,685.0 388.0,684.6 391.0,684.3 394.0,683.9 397.0,683.5 400.0,683.0 403.0,682.6 406.0,682.1 409.0,681.7 412.0,681.2 415.0,680.7 418.0,680.1 421.0,679.6 424.0,679.0 427.0,678.4 430.0,677.7 433.0,677.1 436.0,676.4 439.0,675.7 442.0,675.0 445.0,674.3 448.0,673.5 451.0,672.7 454.0,671.9 457.0,671.1 460.0,670.2 463.0,669.3 466.0,668.4 469.0,667.4 472.0,666.4 475.0,665.4 478.0,664.4 481.0,663.3 484.0,662.2 487.0,661.1 490.0,660.0 493.0,658.8 496.0,657.5 499.0,656.3 502.0,655.0 505.0,653.7 508.0,652.4 511.0,651.0 514.0,649.6 517.0,648.2 520.0,646.8 523.0,645.3 526.0,643.8 529.0,642.3 532.0,640.8 535.0,639.3 538.0,637.7 541.0,636.1 544.0,634.6 547.0,633.0 550.0,631.4 553.0,629.7 556.0,628.1 559.0,626.5 562.0,624.8 565.0,623.2 568.0,621.6 571.0,619.9 574.0,618.3 577.0,616.6 580.0,615.0 583.0,613.3 586.0,611.7 589.0,610.0 592.0,608.4 595.0,606.8 598.0,605.1 601.0,603.5 604.0,601.9 607.0,600.3 610.0,598.7 613.0,597.1 616.0,595.5 619.0,594.0 622.0,592.4 625.0,590.9 628.0,589.4 631.0,587.8 634.0,586.3 637.0,584.9 640.0,583.4 643.0,581.9 646.0,580.5 649.0,579.1 652.0,577.7 655.0,576.3 658.0,574.9 661.0,573.6 664.0,572.3 667.0,571.0 670.0,569.7 673.0,568.5 676.0,567.3 679.0,566.1 682.0,564.9 685.0,563.8 688.0,562.6 691.0,561.6 694.0,560.5 697.0,559.5 700.0,558.5 703.0,557.5 706.0,556.6 709.0,555.7 712.0,554.8 715.0,554.0 718.0,553.2 721.0,552.4 724.0,551.7 727.0,551.0 730.0,550.3 733.0,549.7 736.0,549.1 739.0,548.6 742.0,548.1 745.0,547.6 748.0,547.2 751.0,546.8 754.0,546.4 757.0,546.1 760.0,545.8 763.0,545.6 766.0,545.4 769.0,545.2 772.0,545.1 775.0,545.0 778.0,545.0 781.0,545.0 784.0,545.1 787.0,545.2 790.0,545.3 793.0,545.5 796.0,545.7 799.0,545.9 802.0,546.2 805.0,546.6 808.0,546.9 811.0,547.4 814.0,547.8 817.0,548.4 820.0,548.9 823.0,549.5 826.0,550.2 829.0,550.9 832.0,551.6 835.0,552.4 838.0,553.2 841.0,554.1 844.0,555.0 847.0,555.9 850.0,556.9 853.0,557.9 856.0,558.9 859.0,560.0 862.0,561.1 865.0,562.3 868.0,563.4 871.0,564.7 874.0,565.9 877.0,567.2 880.0,568.5 883.0,569.8 886.0,571.1 889.0,572.5 892.0,573.9 895.0,575.3 898.0,576.8 901.0,578.3 904.0,579.8 907.0,581.3 910.0,582.8 913.0,584.3 916.0,585.9 919.0,587.5 922.0,589.1 925.0,590.7 928.0,592.3 931.0,594.0 934.0,595.6 937.0,597.3 940.0,599.0 943.0,600.7 946.0,602.3 949.0,604.1 952.0,605.8 955.0,607.5 958.0,609.2 961.0,611.0 964.0,612.7 967.0,614.5 970.0,616.2 973.0,618.0 976.0,619.8 979.0,621.5 982.0,623.3 985.0,625.1 988.0,626.9 991.0,628.6 994.0,630.4 997.0,632.2 1000.0,634.0 1003.0,635.8 1006.0,637.5 1009.0,639.3 1012.0,641.1 1015.0,642.9 1018.0,644.6 1021.0,646.4 1024.0,648.1 1027.0,649.9 1030.0,651.6 1033.0,653.4 1036.0,655.1 1039.0,656.8 1042.0,658.5 1045.0,660.2 1048.0,661.9 1051.0,663.6 1054.0,665.3 1057.0,666.9 1060.0,668.6 1063.0,670.2 1066.0,671.8 1069.0,673.4 1072.0,675.0 1075.0,676.5 1078.0,678.1 1081.0,679.6 1084.0,681.2 1087.0,682.7 1090.0,684.1 1093.0,685.6 1096.0,687.0 1099.0,688.5 1102.0,689.9 1105.0,691.2 1108.0,692.6 1111.0,693.9 1114.0,695.2 1117.0,696.5 1120.0,697.8 1123.0,699.0 1126.0,700.2 1129.0,701.4 1132.0,702.6 1135.0,703.8 1138.0,704.9 1141.0,706.0 1144.0,707.1 1147.0,708.2 1150.0,709.2 1153.0,710.3 1156.0,711.3 1159.0,712.3 1162.0,713.3 1165.0,714.2 1168.0,715.2 1171.0,716.1 1174.0,717.0 1177.0,717.9 1180.0,718.8 1183.0,719.7 1186.0,720.6 1189.0,721.4 1192.0,722.2 1195.0,723.0 1198.0,723.8 1201.0,724.6 1204.0,725.4 1207.0,726.2 1210.0,726.9 1213.0,727.7 1216.0,728.4 1219.0,729.1 1222.0,729.8 1225.0,730.5 1228.0,731.2 1231.0,731.9 1234.0,732.5 1237.0,733.2 1240.0,733.8 1243.0,734.5 1246.0,735.1 1249.0,735.8 1252.0,736.4 1255.0,737.0 1258.0,737.6 1261.0,738.2 1264.0,738.8 1267.0,739.4 1270.0,740.0 1273.0,740.6 1276.0,741.2 1279.0,741.7 1282.0,742.3 1285.0,742.9 1288.0,743.4 1291.0,744.0 1294.0,744.6 1297.0,745.1 1300.0,745.7 1303.0,746.3 1306.0,746.8 1309.0,747.4 1312.0,748.0 1315.0,748.5 1318.0,749.1 1321.0,749.7 1324.0,750.3 1327.0,750.8 1330.0,751.4 1333.0,752.0 1336.0,752.6 1339.0,753.2 1342.0,753.8 1345.0,754.4 1348.0,755.1 1351.0,755.7 1354.0,756.3 1357.0,757.0 1360.0,757.6 1363.0,758.3 1366.0,759.0 1369.0,759.7 1372.0,760.4 1375.0,761.1 1378.0,761.8 1381.0,762.6 1384.0,763.3 1387.0,764.1 1390.0,764.9 1393.0,765.7 1396.0,766.5 1399.0,767.3 1402.0,768.2 1405.0,769.0 1408.0,769.9 1411.0,770.8 1414.0,771.7 1417.0,772.6 1420.0,773.6 1423.0,774.6 1426.0,775.6 1429.0,776.6 1432.0,777.6 1435.0,778.7 1438.0,779.8 1441.0,780.9 1444.0,782.0 1447.0,783.2 1450.0,784.3 1453.0,785.5 1456.0,786.7 1459.0,788.0 1462.0,789.2 1465.0,790.4 1468.0,791.7 1471.0,793.0 1474.0,794.2 1477.0,795.5 1480.0,796.8 1483.0,798.1 1486.0,799.3 1489.0,800.6 1492.0,801.9 1495.0,803.2 1498.0,804.5 1501.0,805.7 1504.0,807.0 1507.0,808.2 1510.0,809.4 1513.0,810.7 1516.0,811.9 1519.0,813.0 1522.0,814.2 1525.0,815.3 1528.0,816.5 1531.0,817.6 1534.0,818.6 1537.0,819.7 1540.0,820.7 1543.0,821.7 1546.0,822.6 1549.0,823.6 1552.0,824.4 1555.0,825.3 1558.0,826.1 1561.0,826.9 1564.0,827.6 1567.0,828.3 1570.0,828.9 1573.0,829.6 1576.0,830.1 1579.0,830.7 1582.0,831.2 1585.0,831.6 1588.0,832.0 1591.0,832.4 1594.0,832.8 1597.0,833.1 1600.0,833.3 1603.0,833.6 1606.0,833.8 1609.0,833.9 1612.0,834.0 1615.0,834.1 1618.0,834.1 1621.0,834.2 1624.0,834.1 1627.0,834.1 1630.0,834.0 1633.0,833.8 1636.0,833.7 1639.0,833.4 1642.0,833.2 1645.0,832.9 1648.0,832.6 1651.0,832.3 1654.0,831.9 1657.0,831.5 1660.0,831.0 1663.0,830.6 1666.0,830.0 1669.0,829.5 1672.0,828.9 1675.0,828.3 1678.0,827.7 1681.0,827.0 1684.0,826.3 1687.0,825.5 1690.0,824.8 1693.0,823.9 1696.0,823.1 1699.0,822.2 1702.0,821.3 1705.0,820.4 1708.0,819.5 1711.0,818.5 1714.0,817.5 1717.0,816.5 1720.0,815.4 1723.0,814.3 1726.0,813.2 1729.0,812.1 1732.0,810.9 1735.0,809.8 1738.0,808.6 1741.0,807.4 1744.0,806.2 1747.0,804.9 1750.0,803.7 1753.0,802.4 1756.0,801.1 1759.0,799.8 1762.0,798.5 1765.0,797.2 1768.0,795.8 1771.0,794.5 1774.0,793.1 1777.0,791.7 1780.0,790.4 1783.0,789.0 1786.0,787.6 1789.0,786.2 1792.0,784.8 1795.0,783.4 1798.0,781.9 1801.0,780.5 1804.0,779.1 1807.0,777.7 1810.0,776.3 1813.0,774.8 1816.0,773.4 1819.0,772.0 1822.0,770.6 1825.0,769.2 1828.0,767.8 1831.0,766.4 1834.0,765.0 1837.0,763.6 1840.0,762.2 1843.0,760.8 1846.0,759.5 1849.0,758.1 1852.0,756.8 1855.0,755.4 1858.0,754.1 1861.0,752.8 1864.0,751.5 1867.0,750.2 1870.0,748.9 1873.0,747.7 1876.0,746.4 1879.0,745.2 1882.0,744.0 1885.0,742.8 1888.0,741.6 1891.0,740.5 1894.0,739.3 1897.0,738.2 1900.0,737.1 1903.0,736.0 1906.0,734.9 1909.0,733.8 1912.0,732.8 1915.0,731.8 1918.0,730.8 1921.0,729.8 1924.0,728.8 1927.0,727.9 1930.0,726.9" stroke="#639A3F" />
<path d="M331.0,695.0 334.0,695.1 337.0,695.1 340.0,695.1 343.0,695.2 346.0,695.2 349.0,695.1 352.0,695.1 355.0,695.0 358.0,694.9 361.0,694.8 364.0,694.7 367.0,694.5 370.0,694.3 373.0,694.1 376.0,693.9 379.0,693.7 382.0,693.4 385.0,693.1 388.0,692.8 391.0,692.5 394.0,692.1 397.0,691.7 400.0,691.3 403.0,690.9 406.0,690.4 409.0,689.9 412.0,689.4 415.0,688.9 418.0,688.3 421.0,687.8 424.0,687.1 427.0,686.5 430.0,685.9 433.0,685.2 436.0,684.5 439.0,683.7 442.0,683.0 445.0,682.2 448.0,681.4 451.0,680.5 454.0,679.7 457.0,678.8 460.0,677.8 463.0,676.9 466.0,675.9 469.0,674.9 472.0,673.8 475.0,672.8 478.0,671.7 481.0,670.5 484.0,669.4 487.0,668.2 490.0,666.9 493.0,665.7 496.0,664.4 499.0,663.1 502.0,661.7 505.0,660.3 508.0,658.9 511.0,657.4 514.0,655.9 517.0,654.4 520.0,652.8 523.0,651.2 526.0,649.5 529.0,647.7 532.0,645.8 535.0,643.7 538.0,641.6 541.0,639.3 544.0,637.0 547.0,634.8 550.0,632.5 553.0,630.3 556.0,628.2 559.0,626.2 562.0,624.3 565.0,622.4 568.0,620.6 571.0,618.9 574.0,617.2 577.0,615.6 580.0,614.0 583.0,612.4 586.0,610.9 589.0,609.4 592.0,607.9 595.0,606.5 598.0,605.0 601.0,603.6 604.0,602.2 607.0,600.7 610.0,599.3 613.0,597.9 616.0,596.4 619.0,595.0 622.0,593.5 625.0,592.0 628.0,590.6 631.0,589.1 634.0,587.7 637.0,586.2 640.0,584.8 643.0,583.4 646.0,581.9 649.0,580.5 652.0,579.1 655.0,577.8 658.0,576.4 661.0,575.0 664.0,573.7 667.0,572.4 670.0,571.1 673.0,569.8 676.0,568.6 679.0,567.4 682.0,566.2 685.0,565.0 688.0,563.9 691.0,562.8 694.0,561.8 697.0,560.7 700.0,559.7 703.0,558.8 706.0,557.9 709.0,557.0 712.0,556.1 715.0,555.3 718.0,554.6 721.0,553.8 724.0,553.2 727.0,552.5 730.0,551.9 733.0,551.3 736.0,550.8 739.0,550.3 742.0,549.8 745.0,549.4 748.0,549.0 751.0,548.7 754.0,548.3 757.0,548.1 760.0,547.8 763.0,547.6 766.0,547.5 769.0,547.4 772.0,547.3 775.0,547.2 778.0,547.2 781.0,547.3 784.0,547.3 787.0,547.4 790.0,547.6 793.0,547.8 796.0,548.0 799.0,548.2 802.0,548.5 805.0,548.9 808.0,549.2 811.0,549.6 814.0,550.1 817.0,550.6 820.0,551.1 823.0,551.6 826.0,552.2 829.0,552.9 832.0,553.5 835.0,554.2 838.0,555.0 841.0,555.8 844.0,556.6 847.0,557.4 850.0,558.3 853.0,559.2 856.0,560.1 859.0,561.1 862.0,562.1 865.0,563.1 868.0,564.2 871.0,565.3 874.0,566.4 877.0,567.5 880.0,568.7 883.0,569.9 886.0,571.1 889.0,572.4 892.0,573.6 895.0,574.9 898.0,576.3 901.0,577.6 904.0,579.0 907.0,580.3 910.0,581.7 913.0,583.2 916.0,584.6 919.0,586.1 922.0,587.6 925.0,589.1 928.0,590.6 931.0,592.1 934.0,593.7 937.0,595.2 940.0,596.8 943.0,598.4 946.0,600.0 949.0,601.7 952.0,603.3 955.0,604.9 958.0,606.6 961.0,608.3 964.0,609.9 967.0,611.6 970.0,613.3 973.0,615.0 976.0,616.8 979.0,618.5 982.0,620.2 985.0,622.0 988.0,623.7 991.0,625.4 994.0,627.2 997.0,629.0 1000.0,630.7 1003.0,632.5 1006.0,634.2 1009.0,636.0 1012.0,637.8 1015.0,639.5 1018.0,641.3 1021.0,643.1 1024.0,644.8 1027.0,646.6 1030.0,648.4 1033.0,650.1 1036.0,651.9 1039.0,653.6 1042.0,655.4 1045.0,657.1 1048.0,658.8 1051.0,660.6 1054.0,662.3 1057.0,664.0 1060.0,665.7 1063.0,667.4 1066.0,669.1 1069.0,670.7 1072.0,672.4 1075.0,674.0 1078.0,675.7 1081.0,677.3 1084.0,678.9 1087.0,680.5 1090.0,682.1 1093.0,683.7 1096.0,685.2 1099.0,686.8 1102.0,688.3 1105.0,689.8 1108.0,691.3 1111.0,692.7 1114.0,694.2 1117.0,695.6 1120.0,697.0 1123.0,698.4 1126.0,699.8 1129.0,701.2 1132.0,702.6 1135.0,703.9 1138.0,705.2 1141.0,706.5 1144.0,707.8 1147.0,709.1 1150.0,710.4 1153.0,711.6 1156.0,712.9 1159.0,714.1 1162.0,715.3 1165.0,716.5 1168.0,717.7 1171.0,718.9 1174.0,720.1 1177.0,721.2 1180.0,722.4 1183.0,723.5 1186.0,724.6 1189.0,725.8 1192.0,726.9 1195.0,728.0 1198.0,729.0 1201.0,730.1 1204.0,731.2 1207.0,732.2 1210.0,733.3 1213.0,734.3 1216.0,735.4 1219.0,736.4 1222.0,737.4 1225.0,738.4 1228.0,739.4 1231.0,740.4 1234.0,741.4 1237.0,742.4 1240.0,743.4 1243.0,744.3 1246.0,745.3 1249.0,746.3 1252.0,747.2 1255.0,748.2 1258.0,749.1 1261.0,750.1 1264.0,751.0 1267.0,751.9 1270.0,752.9 1273.0,753.8 1276.0,754.7 1279.0,755.6 1282.0,756.6 1285.0,757.5 1288.0,758.4 1291.0,759.3 1294.0,760.2 1297.0,761.1 1300.0,762.0 1303.0,762.9 1306.0,763.9 1309.0,764.8 1312.0,765.7 1315.0,766.6 1318.0,767.5 1321.0,768.4 1324.0,769.4 1327.0,770.3 1330.0,771.2 1333.0,772.1 1336.0,773.1 1339.0,774.0 1342.0,774.9 1345.0,775.9 1348.0,776.8 1351.0,777.8 1354.0,778.7 1357.0,779.7 1360.0,780.7 1363.0,781.6 1366.0,782.6 1369.0,783.6 1372.0,784.6 1375.0,785.6 1378.0,786.6 1381.0,787.7 1384.0,788.7 1387.0,789.7 1390.0,790.8 1393.0,791.8 1396.0,792.9 1399.0,794.0 1402.0,795.0 1405.0,796.1 1408.0,797.2 1411.0,798.4 1414.0,799.5 1417.0,800.6 1420.0,801.8 1423.0,802.9 1426.0,804.1 1429.0,805.3 1432.0,806.5 1435.0,807.7 1438.0,809.0 1441.0,810.2 1444.0,811.5 1447.0,812.8 1450.0,814.0 1453.0,815.3 1456.0,816.6 1459.0,817.9 1462.0,819.2 1465.0,820.5 1468.0,821.9 1471.0,823.2 1474.0,824.5 1477.0,825.8 1480.0,827.1 1483.0,828.4 1486.0,829.8 1489.0,831.1 1492.0,832.4 1495.0,833.7 1498.0,834.9 1501.0,836.2 1504.0,837.5 1507.0,838.7 1510.0,840.0 1513.0,841.2 1516.0,842.4 1519.0,843.6 1522.0,844.8 1525.0,846.0 1528.0,847.1 1531.0,848.3 1534.0,849.4 1537.0,850.4 1540.0,851.5 1543.0,852.5 1546.0,853.5 1549.0,854.5 1552.0,855.5 1555.0,856.4 1558.0,857.3 1561.0,858.1 1564.0,859.0 1567.0,859.7 1570.0,860.5 1573.0,861.2 1576.0,861.9 1579.0,862.6 1582.0,863.2 1585.0,863.7 1588.0,864.2 1591.0,864.7 1594.0,865.2 1597.0,865.6 1600.0,865.9 1603.0,866.2 1606.0,866.4 1609.0,866.7 1612.0,866.8 1615.0,866.9 1618.0,867.0 1621.0,867.0 1624.0,867.0 1627.0,866.9 1630.0,866.8 1633.0,866.6 1636.0,866.4 1639.0,866.1 1642.0,865.9 1645.0,865.5 1648.0,865.1 1651.0,864.7 1654.0,864.3 1657.0,863.8 1660.0,863.3 1663.0,862.7 1666.0,862.1 1669.0,861.5 1672.0,860.8 1675.0,860.1 1678.0,859.3 1681.0,858.5 1684.0,857.7 1687.0,856.9 1690.0,856.0 1693.0,855.1 1696.0,854.1 1699.0,853.2 1702.0,852.2 1705.0,851.1 1708.0,850.1 1711.0,849.0 1714.0,847.8 1717.0,846.7 1720.0,845.5 1723.0,844.3 1726.0,843.1 1729.0,841.8 1732.0,840.6 1735.0,839.3 1738.0,837.9 1741.0,836.6 1744.0,835.2 1747.0,833.8 1750.0,832.4 1753.0,831.0 1756.0,829.5 1759.0,828.1 1762.0,826.6 1765.0,825.1 1768.0,823.6 1771.0,822.0 1774.0,820.5 1777.0,818.9 1780.0,817.3 1783.0,815.7 1786.0,814.1 1789.0,812.4 1792.0,810.8 1795.0,809.2 1798.0,807.5 1801.0,805.8 1804.0,804.2 1807.0,802.5 1810.0,800.8 1813.0,799.1 1816.0,797.4 1819.0,795.7 1822.0,794.0 1825.0,792.3 1828.0,790.6 1831.0,788.9 1834.0,787.2 1837.0,785.5 1840.0,783.8 1843.0,782.1 1846.0,780.4 1849.0,778.7 1852.0,777.0 1855.0,775.3 1858.0,773.7 1861.0,772.0 1864.0,770.4 1867.0,768.7 1870.0,767.1 1873.0,765.5 1876.0,763.9 1879.0,762.3 1882.0,760.7 1885.0,759.2 1888.0,757.6 1891.0,756.1 1894.0,754.6 1897.0,753.1 1900.0,751.7 1903.0,750.2 1906.0,748.8 1909.0,747.4 1912.0,746.0 1915.0,744.7 1918.0,743.3 1921.0,742.0 1924.0,740.8 1927.0,739.5 1930.0,738.3" stroke="#000000" stroke-dasharray="0 13.65" stroke-dashoffset="-3.4" stroke-linecap="round"/></g>
<g fill="none" stroke-width="8"><line x1="1103.0" y1="107.8" x2="1189.3" y2="107.8" stroke="#000000" stroke-linecap="round"/><line x1="1555.5" y1="107.8" x2="1641.8" y2="107.8" stroke="#4472C4" stroke-linecap="round"/><line x1="1103.0" y1="174.6" x2="1189.3" y2="174.6" stroke="#ED7D31" stroke-linecap="round"/><line x1="1555.5" y1="174.6" x2="1641.5" y2="174.6" stroke="#4472C4" stroke-dasharray="20.4 27.38" stroke-linecap="round"/><line x1="1103.0" y1="241.4" x2="1189.0" y2="241.4" stroke="#ED7D31" stroke-dasharray="20.4 27.38" stroke-linecap="round"/><line x1="1555.5" y1="241.4" x2="1641.8" y2="241.4" stroke="#639A3F" stroke-linecap="round"/><line x1="1103.0" y1="308.2" x2="1189.0" y2="308.2" stroke="#000000" stroke-dasharray="0 13.65" stroke-linecap="round"/></g>
<g font-size="54" letter-spacing="0.3"><text x="1199.6" y="124.9">G=0</text><text x="1652.1" y="124.9">G=0.1</text><text x="1199.6" y="191.7">G=0.47</text><text x="1652.1" y="191.7">G=1.05</text><text x="1199.6" y="258.5">G=3.118</text><text x="1652.1" y="258.5">G=9.309</text><text x="1199.6" y="325.3">G&gt;&gt;1</text></g>
</svg></body></html>
